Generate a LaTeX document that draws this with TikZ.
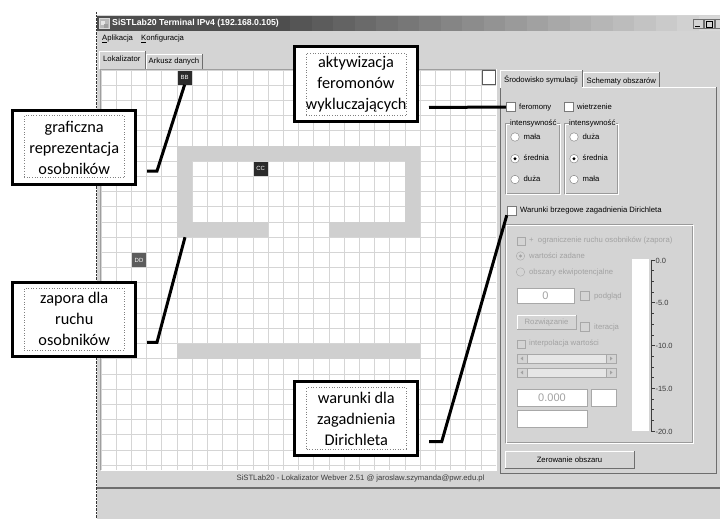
\documentclass[tikz,border=0pt]{standalone}
\usepackage{fontspec}
\setmainfont{Liberation Sans}
\newfontfamily\callfont{Carlito}
\newfontfamily\uifont{Liberation Sans}
\usetikzlibrary{calc}
\definecolor{winbg}{HTML}{D4D4D4}
\definecolor{titledark}{HTML}{4E4E4E}
\definecolor{titlelight}{HTML}{D8D8D8}
\definecolor{gridc}{HTML}{D5D5D5}
\definecolor{wallc}{HTML}{CFCFCF}
\definecolor{agentdark}{HTML}{2B2B2B}
\definecolor{agentgray}{HTML}{5C5C5C}
\definecolor{distext}{HTML}{A2A2A2}
\definecolor{chkborder}{HTML}{7A7A7A}
\definecolor{disborder}{HTML}{A8A8A8}
\definecolor{etch}{HTML}{9A9A9A}
\definecolor{sepc}{HTML}{6E6E6E}
\definecolor{stattext}{HTML}{3C3C3C}
\definecolor{scrolltrack}{HTML}{E6E6E6}
\definecolor{tb1}{HTML}{555555}
\definecolor{tb2}{HTML}{5C5C5C}
\definecolor{tb3}{HTML}{636363}
\definecolor{tb4}{HTML}{6A6A6A}
\definecolor{tb5}{HTML}{717171}
\definecolor{tb6}{HTML}{777777}
\definecolor{tb7}{HTML}{7E7E7E}
\definecolor{tb8}{HTML}{858585}
\definecolor{tb9}{HTML}{8C8C8C}
\definecolor{tb10}{HTML}{939393}
\definecolor{tb11}{HTML}{9A9A9A}
\definecolor{tb12}{HTML}{A1A1A1}
\definecolor{tb13}{HTML}{A8A8A8}
\definecolor{tb14}{HTML}{AFAFAF}
\definecolor{tb15}{HTML}{B6B6B6}
\definecolor{tb16}{HTML}{BCBCBC}
\definecolor{tb17}{HTML}{C3C3C3}
\definecolor{tb18}{HTML}{CACACA}
\definecolor{tb19}{HTML}{D1D1D1}
\definecolor{tb20}{HTML}{D8D8D8}
\begin{document}
\begin{tikzpicture}[x=1pt,y=-1pt,
  ui/.style={font=\uifont\fontsize{7.7}{9}\selectfont, inner sep=0pt, text height=5.5pt, text depth=1.5pt, anchor=west, text=black},
  uid/.style={ui, text=distext},
  chk/.style={draw=chkborder, fill=white, minimum size=9pt, inner sep=0pt},
  chkd/.style={draw=disborder, fill=winbg, minimum size=8pt, inner sep=0pt},
  radio/.style={circle, draw=chkborder, fill=white, minimum size=8.5pt, inner sep=0pt},
  radiod/.style={circle, draw=disborder, fill=winbg, minimum size=8.5pt, inner sep=0pt},
  agent/.style={minimum size=14pt, inner sep=0pt, text=white, font=\uifont\fontsize{6}{6}\selectfont},
  tbox/.style={draw=disborder, fill=white, inner sep=0pt},
  btn/.style={draw=sepc, fill=winbg, inner sep=0pt},
  winbtn/.style={draw=sepc, fill=winbg, minimum width=10.6pt, minimum height=9pt, inner sep=0pt},
  callout/.style={draw=black, line width=3pt, fill=white, minimum width=123pt, minimum height=74pt, align=center, inner sep=0pt, font=\callfont\fontsize{16.3}{21}\selectfont},
  calinner/.style={draw=gray, dotted, line width=0.6pt, minimum width=100pt, minimum height=62pt, inner sep=0pt},
  lead/.style={line width=3pt, black, line join=miter},
  scalelab/.style={font=\uifont\fontsize{7.5}{9}\selectfont, inner sep=0pt, anchor=west, text=stattext}
]
\useasboundingbox (0,0) rectangle (720,519);
\fill[white] (0,0) rectangle (720,519);
% window
\fill[winbg] (97,15) rectangle (720,519);
\fill[titledark] (97,16) rectangle (720,31);
\foreach \n in {1,...,20}
  \fill[tb\n] ({290+(\n-1)*21.5},16) rectangle ({290+\n*21.5+0.5},31);
\draw[black!80, densely dotted] (96.5,12) -- (96.5,519);
% title icon and text
\node[fill=gray!55, draw=gray!30, minimum size=10pt, inner sep=0pt] (icon) at (104.5,23.5) {};
\fill[gray!20] (101,21) rectangle (105,25);
\fill[gray!75] (104,24) rectangle (108,28);
\node[anchor=west, inner sep=0pt, text=white, font=\uifont\bfseries\fontsize{8.7}{10}\selectfont] (title) at (112,23.5) {SiSTLab20 Terminal IPv4 (192.168.0.105)};
\node[winbtn] (bmin) at (698,24) {};
\node[winbtn] (bmax) at (709,24) {};
\node[winbtn] (bcls) at (720.5,24) {};
\draw[black, line width=1.2pt] ($(bmin.center)+(-3,2.5)$) -- ($(bmin.center)+(1.5,2.5)$);
\draw[black, line width=0.6pt] ($(bmax.center)+(-3,-3)$) rectangle ($(bmax.center)+(3,3)$);
\draw[black, line width=1.2pt] ($(bmax.center)+(-3,-2.6)$) -- ($(bmax.center)+(3,-2.6)$);
% menu
\node[ui] (menuA) at (102,38.5) {\underline{A}plikacja};
\node[ui] (menuK) at (141,38.5) {\underline{K}onfiguracja};
% left tabs
\draw[white, line width=0.8pt] (99.5,69) -- (99.5,51) -- (145,51);
\draw[sepc, line width=0.8pt] (145,51) -- (145,69);
\node[ui] (tabLok) at (103,60) {Lokalizator};
\draw[white, line width=0.8pt] (146,69) -- (146,54) -- (202,54);
\draw[sepc, line width=0.8pt] (202.5,54) -- (202.5,69);
\node[ui] (tabArk) at (148.5,61.5) {Arkusz danych};
% grid panel
\fill[white] (101,70) rectangle (496.2,470);
\foreach \i in {0,...,26} \draw[gridc, line width=0.8pt] ({101+\i*15.2},70) -- ({101+\i*15.2},470);
\foreach \j in {0,...,26} \draw[gridc, line width=0.8pt] (101,{70+\j*15.2}) -- (496.2,{70+\j*15.2});
\draw[gray!75, line width=1pt] (100.5,470) -- (100.5,69.5) -- (496.5,69.5);
\draw[white, line width=1pt] (496.7,69.5) -- (496.7,470.5) -- (100.5,470.5);
% walls
\fill[wallc] (177,146) rectangle (420.2,161.2);
\fill[wallc] (177,146) rectangle (192.2,237.2);
\fill[wallc] (405,146) rectangle (420.2,237.2);
\fill[wallc] (177,222) rectangle (268.2,237.2);
\fill[wallc] (329,222) rectangle (420.2,237.2);
\fill[wallc] (177,343.6) rectangle (420.2,358.8);
\coordinate (wallfoot) at (185,237.2);
% agents
\node[agent, fill=agentdark] (BB) at (184.6,77.6) {BB};
\node[agent, fill=agentdark] (CC) at (260.6,168.8) {CC};
\node[agent, fill=agentgray] (DD) at (139,260) {DD};
\node[draw=gray!70!black, fill=white, line width=0.9pt, minimum size=13.5pt, inner sep=0pt] (corner) at (488.8,77.6) {};
% status bar
\node[anchor=center, inner sep=0pt, text=stattext, font=\uifont\fontsize{7.7}{9}\selectfont] (status) at (360.5,479) {SiSTLab20 - Lokalizator Webver 2.51 @ jaroslaw.szymanda@pwr.edu.pl};
\draw[sepc, line width=2pt] (97,487.8) -- (720,487.8);
% right panel
\draw[white, line width=0.8pt] (500.5,473) -- (500.5,87.5) -- (716,87.5);
\draw[sepc, line width=0.9pt] (500,87) -- (500,473.5) -- (716,473.5) -- (716,87);
\fill[winbg] (501,86) rectangle (582,89);
\draw[white, line width=0.8pt] (500.5,88) -- (500.5,70.5) -- (582,70.5);
\draw[sepc, line width=0.8pt] (582.5,70.5) -- (582.5,87);
\node[ui] (tabSrod) at (504,80) {Środowisko symulacji};
\draw[white, line width=0.8pt] (583.5,87) -- (583.5,72.5) -- (659,72.5);
\draw[sepc, line width=0.8pt] (659.5,72.5) -- (659.5,87);
\node[ui] (tabSchem) at (586.5,81) {Schematy obszarów};
% checkboxes
\node[chk] (fer) at (510.5,107) {};
\node[ui] (ferT) at (519,107) {feromony};
\node[chk] (wie) at (568.5,107) {};
\node[ui] (wieT) at (577,107) {wietrzenie};
% group boxes
\draw[etch, line width=0.7pt] (505,123) rectangle (559,193);
\draw[white, line width=0.7pt] (506,124) rectangle (560,194);
\node[ui, fill=winbg, inner xsep=0.5pt] (g1T) at (509.5,123) {intensywność};
\draw[etch, line width=0.7pt] (564,123) rectangle (617,193);
\draw[white, line width=0.7pt] (565,124) rectangle (618,194);
\node[ui, fill=winbg, inner xsep=0.5pt] (g2T) at (568.5,123) {intensywność};
\node[radio] (r1) at (515,137) {};
\node[ui] (r1T) at (523.5,137) {mała};
\node[radio] (r2) at (515,158.7) {};
\fill[black] (r2.center) circle (1.6);
\node[ui] (r2T) at (523.5,158.7) {średnia};
\node[radio] (r3) at (515,179.5) {};
\node[ui] (r3T) at (523.5,179.5) {duża};
\node[radio] (s1) at (574,137) {};
\node[ui] (s1T) at (582.5,137) {duża};
\node[radio] (s2) at (574,158.7) {};
\fill[black] (s2.center) circle (1.6);
\node[ui] (s2T) at (582.5,158.7) {średnia};
\node[radio] (s3) at (574,179.5) {};
\node[ui] (s3T) at (582.5,179.5) {mała};
\node[chk] (dir) at (511.5,210.5) {};
\node[ui] (dirT) at (520,210.5) {Warunki brzegowe zagadnienia Dirichleta};
% disabled group
\draw[etch, line width=0.7pt] (505,224) rectangle (692,442);
\draw[white, line width=0.7pt] (506,225) rectangle (693,443);
\node[chkd] (d1) at (521,241) {};
\node[uid] (d1T) at (529,240.5) {+\ \ ograniczenie ruchu osobników (zapora)};
\node[radiod] (d2) at (520.5,256) {};
\fill[distext] (d2.center) circle (1.6);
\node[uid] (d2T) at (529,256) {wartości zadane};
\node[radiod] (d3) at (520.5,272) {};
\node[uid] (d3T) at (529,272) {obszary ekwipotencjalne};
\node[tbox, minimum width=57pt, minimum height=15pt] (val0) at (545.5,295.5) {};
\node[inner sep=0pt, text=distext, font=\uifont\fontsize{11}{12}\selectfont] (val0T) at (545.5,295.5) {0};
\node[chkd, minimum size=9pt] (pod) at (585,296) {};
\node[uid] (podT) at (594,296.5) {podgląd};
\node[btn, draw=disborder, minimum width=59pt, minimum height=14pt] (rozw) at (546.5,322) {};
\draw[white, line width=0.7pt] (517.5,328.5) -- (517.5,315.5) -- (575.5,315.5);
\node[uid, anchor=center] (rozwT) at (546.5,322) {Rozwiązanie};
\node[chkd, minimum size=9pt] (iter) at (585,327) {};
\node[uid] (iterT) at (594,327.5) {iteracja};
\node[chkd] (interp) at (521,344) {};
\node[uid] (interpT) at (529,343.5) {interpolacja wartości};
% scrollbars
\foreach \yy/\nm in {358.5/sbA,372.5/sbB}{
  \node[draw=disborder, fill=scrolltrack, minimum width=99pt, minimum height=9pt, inner sep=0pt] (\nm) at (566.5,\yy) {};
  \node[draw=disborder, fill=winbg, minimum width=10pt, minimum height=9pt, inner sep=0pt] (\nm L) at (522,\yy) {};
  \node[draw=disborder, fill=winbg, minimum width=10pt, minimum height=9pt, inner sep=0pt] (\nm R) at (611,\yy) {};
  \fill[distext] (520.5,\yy) -- (523,\yy-2) -- (523,\yy+2) -- cycle;
  \fill[distext] (612.5,\yy) -- (610,\yy-2) -- (610,\yy+2) -- cycle;
}
\node[tbox, minimum width=70pt, minimum height=17pt] (val1) at (552,397.5) {};
\node[inner sep=0pt, text=distext, font=\uifont\fontsize{11}{12}\selectfont] (val1T) at (552,397.5) {0.000};
\node[tbox, minimum width=25pt, minimum height=17pt] (val2) at (603.5,397.5) {};
\node[tbox, minimum width=70pt, minimum height=17pt] (val3) at (552,418.5) {};
% colour bar and scale
\node[fill=white, minimum width=17pt, minimum height=172pt, inner sep=0pt] (cbar) at (640.5,345) {};
\draw[stattext, line width=0.7pt] (651,259.5) -- (651,431.5);
\foreach \k in {0,...,16} \draw[stattext, line width=0.6pt] (651,{260+\k*10.6875}) -- (654,{260+\k*10.6875});
\foreach \k in {0,...,4} \draw[stattext, line width=0.7pt] (651,{260+\k*42.75}) -- (654.5,{260+\k*42.75});
\node[scalelab] (sc0) at (655.5,260.5) {0.0};
\node[scalelab] (sc1) at (655.3,303) {-5.0};
\node[scalelab] (sc2) at (655.3,346) {-10.0};
\node[scalelab] (sc3) at (655.3,388.5) {-15.0};
\node[scalelab] (sc4) at (655.3,431.5) {-20.0};
% Zerowanie button
\node[btn, minimum width=129pt, minimum height=17pt] (zero) at (569.5,459.5) {};
\draw[white, line width=0.8pt] (505.5,467.5) -- (505.5,451.5) -- (633.5,451.5);
\node[ui, anchor=center] (zeroT) at (569.5,460) {Zerowanie obszaru};
% callouts
\node[callout] (c1) at (356,84) {aktywizacja\\feromonów\\wykluczających};
\node[calinner] (c1i) at (356,84.5) {};
\node[callout] (c2) at (74.2,147.5) {graficzna\\reprezentacja\\osobników};
\node[calinner] (c2i) at (74.2,146.7) {};
\node[callout] (c3) at (74.2,319.2) {zapora dla\\ruchu\\osobników};
\node[calinner] (c3i) at (74.2,319) {};
\node[callout] (c4) at (356.3,418.7) {warunki dla\\zagadnienia\\Dirichleta};
\node[calinner] (c4i) at (356.7,418.7) {};
% leaders
\coordinate (l1a) at (429,107.5);
\draw[lead] (l1a) -- (fer.west);
\coordinate (l2a) at (147,171);
\coordinate (l2b) at (157,171);
\draw[lead] (l2a) -- (l2b) -- (BB.south);
\coordinate (l3a) at (147,342.3);
\coordinate (l3b) at (157,342.3);
\draw[lead] (l3a) -- (l3b) -- (wallfoot);
\coordinate (l4a) at (429,441.7);
\coordinate (l4b) at (441.7,441.7);
\draw[lead] (l4a) -- (l4b) -- (dir.south west);
\end{tikzpicture}
\end{document}
